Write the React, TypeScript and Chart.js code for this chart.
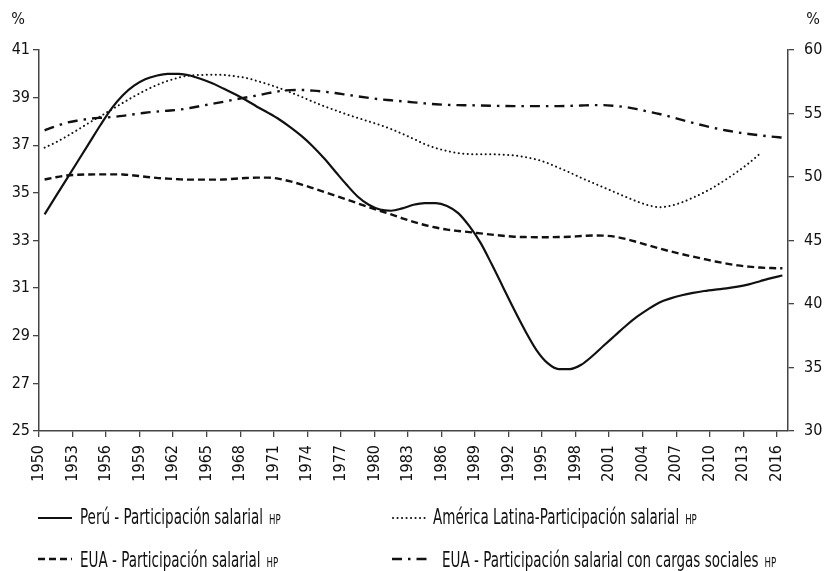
import React, { useEffect, useRef } from "react";
import { Chart, registerables } from "chart.js";

Chart.register(...registerables);

const FONT = "'Liberation Sans Narrow', 'DejaVu Sans Condensed', 'Liberation Sans', sans-serif";

const years = [
  1950, 1951, 1952, 1953, 1954, 1955, 1956, 1957, 1958, 1959,
  1960, 1961, 1962, 1963, 1964, 1965, 1966, 1967, 1968, 1969,
  1970, 1971, 1972, 1973, 1974, 1975, 1976, 1977, 1978, 1979,
  1980, 1981, 1982, 1983, 1984, 1985, 1986, 1987, 1988, 1989,
  1990, 1991, 1992, 1993, 1994, 1995, 1996, 1997, 1998, 1999,
  2000, 2001, 2002, 2003, 2004, 2005, 2006, 2007, 2008, 2009,
  2010, 2011, 2012, 2013, 2014, 2015, 2016,
];

const tickYears = [
  1950, 1953, 1956, 1959, 1962, 1965, 1968, 1971, 1974, 1977, 1980, 1983,
  1986, 1989, 1992, 1995, 1998, 2001, 2004, 2007, 2010, 2013, 2016,
];

const peru = [
  34.1, 34.85, 35.6, 36.35, 37.1, 37.85, 38.55, 39.1, 39.5, 39.77,
  39.92, 40.0, 40.0, 39.93, 39.78, 39.6, 39.38, 39.15, 38.9, 38.62,
  38.36, 38.08, 37.75, 37.38, 36.95, 36.45, 35.9, 35.35, 34.85, 34.5,
  34.3, 34.25, 34.35, 34.5, 34.57, 34.57, 34.45, 34.15, 33.6, 32.9,
  32.0, 31.05, 30.1, 29.2, 28.4, 27.85, 27.6, 27.6, 27.78, 28.15,
  28.58, 29.0, 29.42, 29.8, 30.12, 30.4, 30.57, 30.7, 30.8, 30.88,
  30.94, 30.99, 31.06, 31.16, 31.29, 31.42, 31.53,
];

const americaLatina = [
  36.9, 37.12, 37.38, 37.66, 37.95, 38.22, 38.5, 38.78, 39.05, 39.3,
  39.52, 39.7, 39.84, 39.93, 39.95, 39.96, 39.95, 39.9, 39.83, 39.7,
  39.56, 39.4, 39.22, 39.03, 38.83, 38.64, 38.47, 38.3, 38.15, 38.0,
  37.85, 37.68, 37.48, 37.27, 37.05, 36.88, 36.76, 36.67, 36.63, 36.62,
  36.62, 36.6, 36.57, 36.5, 36.4, 36.25, 36.05, 35.85, 35.63, 35.43,
  35.23, 35.03, 34.83, 34.64, 34.48, 34.4, 34.46, 34.6, 34.8, 35.02,
  35.28, 35.58, 35.9, 36.25, 36.65, null, null,
];

const eua = [
  49.8, 49.98, 50.12, 50.18, 50.2, 50.21, 50.21, 50.2, 50.12, 50.02,
  49.93, 49.87, 49.82, 49.79, 49.79, 49.79, 49.8, 49.86, 49.92, 49.95,
  49.95, 49.85, 49.65, 49.4, 49.12, 48.83, 48.53, 48.23, 47.93, 47.63,
  47.34, 47.05, 46.75, 46.47, 46.22, 46.02, 45.86, 45.75, 45.66, 45.56,
  45.46, 45.37, 45.3, 45.27, 45.26, 45.26, 45.27, 45.3, 45.35, 45.39,
  45.38, 45.3, 45.12, 44.88, 44.62, 44.37, 44.14, 43.93, 43.73, 43.54,
  43.35, 43.18, 43.04, 42.94, 42.87, 42.83, 42.81,
];

const euaCargas = [
  53.68, 54.0, 54.28, 54.45, 54.58, 54.66, 54.72, 54.81, 54.94, 55.06,
  55.15, 55.22, 55.3, 55.43, 55.6, 55.76, 55.92, 56.1, 56.26, 56.42,
  56.6, 56.76, 56.84, 56.85, 56.8, 56.72, 56.61, 56.48, 56.35, 56.23,
  56.12, 56.04, 55.96, 55.88, 55.8, 55.73, 55.68, 55.66, 55.65, 55.63,
  55.61, 55.59, 55.58, 55.58, 55.58, 55.58, 55.58, 55.6, 55.63, 55.66,
  55.66, 55.6, 55.5, 55.34, 55.15, 54.96, 54.74, 54.5, 54.26, 54.04,
  53.84, 53.66, 53.51, 53.39, 53.28, 53.18, 53.1,
];

const seriesLabels = [
  "Perú - Participación salarial",
  "América Latina-Participación salarial",
  "EUA - Participación salarial",
  "EUA - Participación salarial con cargas sociales",
];
const seriesSuffix = "HP";
const axisUnit = "%";

// legend placement (style only)
const legendPos = [
  { x1: 38, x2: 72, ly: 518, tx: 80, by: 524 },
  { x1: 393, x2: 428, ly: 518, tx: 433, by: 524 },
  { x1: 38, x2: 72, ly: 559, tx: 80, by: 566.5 },
  { x1: 392, x2: 431, ly: 559, tx: 442, by: 566.5 },
];
const legendTargetWidth = 183;

const toPoints = (vals: (number | null)[]) =>
  years.map((yr, i) => ({ x: yr + 0.5, y: vals[i] }));

const overlayPlugin = {
  id: "overlayPlugin",
  afterDraw(chart: any) {
    const ctx = chart.ctx as CanvasRenderingContext2D;
    ctx.save();
    ctx.fillStyle = "#111";
    ctx.textAlign = "center";
    ctx.textBaseline = "middle";
    ctx.font = `16px ${FONT}`;
    ctx.fillText(axisUnit, 18, 20);
    ctx.fillText(axisUnit, 813, 20);

    ctx.font = `22px ${FONT}`;
    const sx = legendTargetWidth / ctx.measureText(seriesLabels[0]).width;

    chart.data.datasets.forEach((ds: any, i: number) => {
      const p = legendPos[i];
      ctx.save();
      ctx.strokeStyle = "#111";
      ctx.lineWidth = ds.borderWidth;
      ctx.lineCap = ds.borderCapStyle || "butt";
      ctx.setLineDash(ds.borderDash || []);
      ctx.beginPath();
      ctx.moveTo(p.x1, p.ly);
      ctx.lineTo(p.x2, p.ly);
      ctx.stroke();
      ctx.restore();

      ctx.save();
      ctx.fillStyle = "#111";
      ctx.textAlign = "left";
      ctx.textBaseline = "alphabetic";
      ctx.translate(p.tx, p.by);
      ctx.scale(sx, 1);
      ctx.font = `22px ${FONT}`;
      ctx.fillText(ds.label, 0, 0);
      const w = ctx.measureText(ds.label).width;
      ctx.font = `14px ${FONT}`;
      ctx.fillText(seriesSuffix, w + 6 / sx, 0);
      ctx.restore();
    });
    ctx.restore();
  },
};

export default function App() {
  const ref = useRef<HTMLCanvasElement | null>(null);

  useEffect(() => {
    if (!ref.current) return;
    const tickFont = { family: FONT, size: 16 };
    const axisGrid = {
      drawOnChartArea: false,
      drawTicks: true,
      tickLength: 6,
      color: "#444",
      lineWidth: 1.3,
    };
    const axisBorder = { display: true, color: "#444", width: 1.5 };
    const chart = new Chart(ref.current, {
      type: "line",
      data: {
        datasets: [
          {
            label: seriesLabels[0],
            data: toPoints(peru),
            yAxisID: "y",
            borderColor: "#111",
            borderWidth: 2.2,
            pointRadius: 0,
            cubicInterpolationMode: "monotone",
          },
          {
            label: seriesLabels[1],
            data: toPoints(americaLatina),
            yAxisID: "y",
            borderColor: "#111",
            borderWidth: 2,
            borderDash: [0.1, 4.4],
            borderCapStyle: "round",
            pointRadius: 0,
            cubicInterpolationMode: "monotone",
          },
          {
            label: seriesLabels[2],
            data: toPoints(eua),
            yAxisID: "y1",
            borderColor: "#111",
            borderWidth: 2.4,
            borderDash: [7, 4],
            pointRadius: 0,
            cubicInterpolationMode: "monotone",
          },
          {
            label: seriesLabels[3],
            data: toPoints(euaCargas),
            yAxisID: "y1",
            borderColor: "#111",
            borderWidth: 2.4,
            borderDash: [10, 6, 2.5, 6],
            pointRadius: 0,
            cubicInterpolationMode: "monotone",
          },
        ],
      },
      options: {
        animation: false,
        responsive: false,
        maintainAspectRatio: false,
        layout: { padding: { top: 50, bottom: 80, left: 0, right: 0 } },
        plugins: {
          legend: { display: false },
          tooltip: { enabled: false },
        },
        scales: {
          x: {
            type: "linear",
            min: 1950,
            max: 2017,
            afterBuildTicks: (scale: any) => {
              scale.ticks = tickYears.map((v) => ({ value: v }));
            },
            afterFit: (scale: any) => {
              scale.height = 60;
            },
            ticks: {
              minRotation: 90,
              maxRotation: 90,
              autoSkip: false,
              padding: 8,
              color: "#111",
              font: tickFont,
              callback: (v: any) => String(v),
            },
            grid: axisGrid,
            border: axisBorder,
          },
          y: {
            type: "linear",
            position: "left",
            min: 25,
            max: 41,
            afterFit: (scale: any) => {
              scale.width = 39;
            },
            ticks: {
              stepSize: 2,
              padding: 3,
              color: "#111",
              font: tickFont,
            },
            grid: axisGrid,
            border: axisBorder,
          },
          y1: {
            type: "linear",
            position: "right",
            min: 30,
            max: 60,
            afterFit: (scale: any) => {
              scale.width = 39;
            },
            ticks: {
              stepSize: 5,
              padding: 10,
              color: "#111",
              font: tickFont,
            },
            grid: axisGrid,
            border: axisBorder,
          },
        },
      },
      plugins: [overlayPlugin],
    });
    return () => chart.destroy();
  }, []);

  return (
    <div style={{ position: "fixed", left: 0, top: 0, width: 827, height: 571, background: "#fff" }}>
      <canvas ref={ref} width={827} height={571} style={{ width: 827, height: 571, display: "block" }} />
    </div>
  );
}
